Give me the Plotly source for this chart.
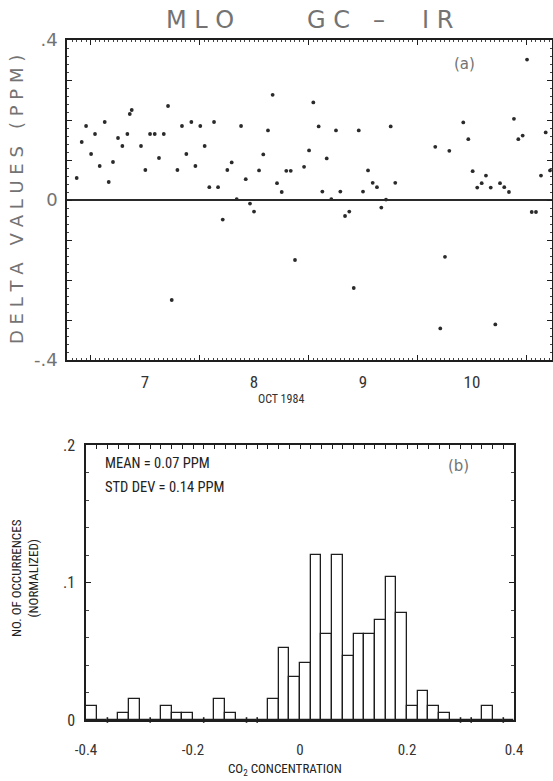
import numpy as np
import pandas as pd
import plotly.graph_objects as go

# ---------------- (a) hourly GC minus IR differences, MLO, October 1984 ----------------
# time of each observation as fractional day of October 1984
obs_day = [
    6.873, 6.919, 6.959, 7.005, 7.041, 7.084, 7.130, 7.167, 7.206, 7.252,
    7.292, 7.338, 7.360, 7.378, 7.463, 7.503, 7.546, 7.589, 7.628, 7.672,
    7.711, 7.745, 7.797, 7.839, 7.879, 7.925, 7.962, 8.007, 8.047, 8.090,
    8.133, 8.170, 8.213, 8.255, 8.295, 8.341, 8.381, 8.424, 8.463, 8.500,
    8.546, 8.585, 8.628, 8.671, 8.711, 8.754, 8.796, 8.837, 8.876, 8.959,
    9.005, 9.044, 9.093, 9.127, 9.167, 9.209, 9.252, 9.292, 9.335, 9.374,
    9.415, 9.461, 9.500, 9.546, 9.589, 9.628, 9.668, 9.711, 9.754, 9.796,
    10.163, 10.209, 10.252, 10.292, 10.420, 10.466, 10.506, 10.548, 10.589, 10.628,
    10.672, 10.714, 10.757, 10.796, 10.839, 10.885, 10.925, 10.965, 11.005, 11.048,
    11.087, 11.133, 11.176, 11.216,
]
# GC - IR difference (ppm)
delta_ppm = [
    0.055, 0.145, 0.185, 0.115, 0.165, 0.085, 0.195, 0.045, 0.095, 0.155,
    0.135, 0.165, 0.215, 0.225, 0.135, 0.075, 0.165, 0.165, 0.105, 0.165,
    0.235, -0.250, 0.075, 0.185, 0.115, 0.195, 0.085, 0.185, 0.135, 0.032,
    0.195, 0.032, -0.049, 0.075, 0.094, 0.002, 0.185, 0.052, -0.009, -0.029,
    0.074, 0.114, 0.174, 0.263, 0.042, 0.020, 0.073, 0.073, -0.150, 0.083,
    0.124, 0.244, 0.184, 0.021, 0.104, 0.002, 0.174, 0.021, -0.040, -0.029,
    -0.220, 0.174, 0.021, 0.074, 0.043, 0.032, -0.019, 0.001, 0.184, 0.043,
    0.133, -0.321, -0.142, 0.123, 0.194, 0.152, 0.072, 0.031, 0.042, 0.061,
    0.031, -0.311, 0.042, 0.032, 0.020, 0.203, 0.152, 0.161, 0.351, -0.030,
    -0.030, 0.061, 0.169, 0.074,
]
label_days = [7, 8, 9, 10]
label_text = ["7", "8", "9", "10"]
delta_ticks = [-0.4, 0.0, 0.4]
delta_ticktext = ["-.4", "0", ".4"]

# ---------------- (b) histogram of the differences ----------------
bin_lo = [
    -0.40, -0.38, -0.36, -0.34, -0.32, -0.30, -0.28, -0.26, -0.24, -0.22,
    -0.20, -0.18, -0.16, -0.14, -0.12, -0.10, -0.08, -0.06, -0.04, -0.02,
    0.00, 0.02, 0.04, 0.06, 0.08, 0.10, 0.12, 0.14, 0.16, 0.18,
    0.20, 0.22, 0.24, 0.26, 0.28, 0.30, 0.32, 0.34, 0.36, 0.38,
]
bin_counts = [
    2, 0, 0, 1, 3, 0, 0, 2, 1, 1,
    0, 0, 3, 1, 0, 0, 0, 3, 10, 6,
    8, 23, 12, 23, 9, 12, 12, 14, 20, 15,
    2, 4, 2, 1, 0, 0, 0, 2, 0, 0,
]
BIN_W = 0.02
conc_ticks = [-0.4, -0.2, 0.0, 0.2, 0.4]
conc_ticktext = ["-0.4", "-0.2", "0", "0.2", "0.4"]
occ_ticks = [0.0, 0.1, 0.2]
occ_ticktext = ["0", ".1", ".2"]

# ---------------- derived quantities ----------------
base = pd.Timestamp("1984-10-01")
def oct_time(day):
    return base + pd.Timedelta(days=day - 1)

obs_time = [oct_time(d) for d in obs_day]
t_start = oct_time(6.784)
t_end = oct_time(11.234)
# day numbers are written at local noon, ticks sit at midnight
label_time = [oct_time(d + 0.5) for d in label_days]

counts = np.array(bin_counts, dtype=float)
frac = counts / counts.sum()
centers = np.array(bin_lo) + BIN_W / 2
# edges between two empty bins show as a tiny stub on the baseline
stub_x = [bin_lo[i + 1] for i in range(len(bin_counts) - 1)
          if bin_counts[i] == 0 and bin_counts[i + 1] == 0]

# ---------------- page geometry (pixels) ----------------
W, H = 553, 781
def fx(p):
    return p / W
def fy(p):
    return 1 - p / H

INK = "#1e1e1e"
PEN = "#737373"
COND = "Roboto Condensed, Liberation Sans Narrow, Roboto, sans-serif"
PLOT = "DejaVu Sans, Verdana, sans-serif"

fig = go.Figure()

fig.add_trace(go.Scatter(
    x=obs_time, y=delta_ppm, mode="markers",
    marker=dict(size=3.8, color="#2a2a2a"),
    xaxis="x", yaxis="y", showlegend=False, hoverinfo="skip",
))
# empty traces so the extra tick-only axes of panel (a) are laid out
fig.add_trace(go.Scatter(x=[], y=[], xaxis="x", yaxis="y3",
                         showlegend=False, hoverinfo="skip"))
fig.add_trace(go.Scatter(x=[], y=[], xaxis="x4", yaxis="y",
                         showlegend=False, hoverinfo="skip"))

fig.add_trace(go.Bar(
    x=centers, y=frac, width=BIN_W,
    marker=dict(color="white", line=dict(color=INK, width=1.3)),
    xaxis="x2", yaxis="y2", showlegend=False, hoverinfo="skip",
))

fig.add_trace(go.Scatter(
    x=stub_x, y=[0.0] * len(stub_x), mode="markers",
    marker=dict(symbol="line-ns", size=4, line=dict(color=INK, width=1.6)),
    xaxis="x3", yaxis="y2", showlegend=False, hoverinfo="skip", cliponaxis=False,
))

def frame(**kw):
    d = dict(showline=True, linecolor=INK, linewidth=1.5, showgrid=False,
             zeroline=False, automargin=False)
    d.update(kw)
    return d

def ticks_only(**kw):
    d = dict(showline=False, showgrid=False, zeroline=False,
             showticklabels=False, automargin=False)
    d.update(kw)
    return d

fig.update_layout(
    width=W, height=H,
    margin=dict(l=0, r=0, t=0, b=0),
    autosize=False,
    paper_bgcolor="white", plot_bgcolor="white",
    bargap=0,
    # panel (a): day labels
    xaxis=frame(
        domain=[fx(67), fx(552)], anchor="y", type="date",
        range=[t_start, t_end], mirror=True, ticks="",
        tickmode="array", tickvals=label_time, ticktext=label_text,
        ticklabelstandoff=6,
        tickfont=dict(family=COND, size=17, color="#333"),
    ),
    # panel (a): midnight and hourly tick marks on bottom and top
    xaxis4=ticks_only(
        overlaying="x", matches="x", anchor="y", side="bottom", type="date",
        range=[t_start, t_end], mirror="ticks",
        ticks="inside", ticklen=5, tickwidth=1.2, tickcolor=INK,
        tick0="1984-10-07", dtick=86400000,
        minor=dict(dtick=3600000, ticks="inside", ticklen=2, tickwidth=1,
                   tickcolor="#444", showgrid=False),
    ),
    yaxis=frame(
        domain=[fy(360), fy(40)], anchor="x",
        range=[-0.4, 0.4], mirror="ticks",
        zeroline=True, zerolinecolor="#2a2a2a", zerolinewidth=1.6,
        tickmode="array", tickvals=delta_ticks, ticktext=delta_ticktext,
        ticks="inside", ticklen=5, tickwidth=1.2, tickcolor=INK,
        ticklabelstandoff=4,
        tickfont=dict(family=PLOT, size=18, color=PEN),
        minor=dict(dtick=0.02, ticks="inside", ticklen=2.5, tickwidth=1,
                   tickcolor="#444", showgrid=False),
    ),
    yaxis3=ticks_only(
        overlaying="y", matches="y", anchor="x", side="left",
        range=[-0.4, 0.4], ticks="inside", dtick=0.1, tick0=0,
        ticklen=5, tickwidth=1.2, tickcolor=INK, mirror="ticks",
    ),
    # panel (b)
    xaxis2=frame(
        domain=[fx(86), fx(514)], anchor="y2",
        range=[-0.4, 0.4], mirror=True, ticks="",
        tickmode="array", tickvals=conc_ticks, ticktext=conc_ticktext,
        ticklabelstandoff=15,
        tickfont=dict(family=COND, size=15, color="#333"),
    ),
    xaxis3=ticks_only(
        overlaying="x2", matches="x2", anchor="y2", side="top",
        range=[-0.4, 0.4], ticks="inside", dtick=BIN_W, tick0=0,
        ticklen=4, tickwidth=1.2, tickcolor=INK,
    ),
    yaxis2=frame(
        domain=[fy(720), fy(445)], anchor="x2",
        range=[0, 0.2], mirror="ticks",
        tickmode="array", tickvals=occ_ticks, ticktext=occ_ticktext,
        ticks="inside", ticklen=5, tickwidth=1.2, tickcolor=INK,
        ticklabelstandoff=6,
        tickfont=dict(family=COND, size=16, color="#333"),
        minor=dict(dtick=0.02, ticks="inside", ticklen=3, tickwidth=1,
                   tickcolor="#444", showgrid=False),
    ),
)

def note(text, x, y, size, family, color, angle=0, xanchor="center"):
    fig.add_annotation(text=text, x=fx(x), y=fy(y), xref="paper", yref="paper",
                       showarrow=False, textangle=angle, xanchor=xanchor,
                       yanchor="middle", font=dict(family=family, size=size, color=color))

# panel (a) heading and labels
note("M L O", 200, 20, 24, PLOT, PEN)
note("G C", 328, 20, 24, PLOT, PEN)
note("–", 379, 20, 24, PLOT, PEN)
note("I R", 437, 20, 24, PLOT, PEN)
note("D E L T A   V A L U E S   ( P P M )", 17, 200, 18, PLOT, PEN, angle=-90)
note("OCT 1984", 281, 399, 12, COND, "#333")
note("(a)", 464, 64, 15, PLOT, PEN)

# panel (b) labels
note("MEAN = 0.07 PPM", 103, 463, 14.5, COND, "#222", xanchor="left")
note("STD DEV = 0.14 PPM", 103, 487, 14.5, COND, "#222", xanchor="left")
note("(b)", 458, 466, 15, PLOT, PEN)
note("NO. OF OCCURRENCES<br>(NORMALIZED)", 25, 578, 13, COND, "#222", angle=-90)
note("CO<sub>2</sub> CONCENTRATION", 285, 769, 13, COND, "#222")

fig.write_html("out.html")
